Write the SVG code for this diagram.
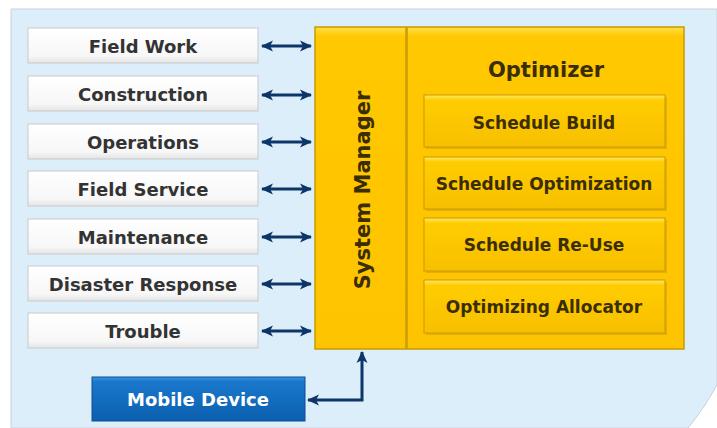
<svg xmlns="http://www.w3.org/2000/svg" width="717" height="428" viewBox="0 0 717 428">
<defs>
<linearGradient id="wg" x1="0" y1="0" x2="0" y2="1"><stop offset="0" stop-color="#ffffff"/><stop offset="0.8" stop-color="#f7f7f7"/><stop offset="1" stop-color="#e4e4e4"/></linearGradient>
<linearGradient id="yg" x1="0" y1="0" x2="0" y2="1"><stop offset="0" stop-color="#ffe04a"/><stop offset="0.03" stop-color="#ffc800"/><stop offset="1" stop-color="#ffc400"/></linearGradient>
<linearGradient id="ig" x1="0" y1="0" x2="0" y2="1"><stop offset="0" stop-color="#ffe866"/><stop offset="0.1" stop-color="#ffcc00"/><stop offset="1" stop-color="#f7c000"/></linearGradient>
<linearGradient id="bg" x1="0" y1="0" x2="0" y2="1"><stop offset="0" stop-color="#3a95e0"/><stop offset="0.1" stop-color="#1a78cc"/><stop offset="1" stop-color="#0b5fae"/></linearGradient>
<marker id="ah" viewBox="0 0 12 12" refX="11" refY="6" markerWidth="12" markerHeight="12" markerUnits="userSpaceOnUse" orient="auto-start-reverse"><path d="M0,0.5 L12,6 L0,11.5 L3,6 Z" fill="#0d3568"/></marker>
</defs>
<style>
.lb{fill:url(#wg);stroke:#c9c9c9;stroke-width:1}
.lt{font-family:"DejaVu Sans",Verdana,sans-serif;font-weight:bold;font-size:18px;fill:#333;text-anchor:middle}
.yt{font-family:"DejaVu Sans",Verdana,sans-serif;font-weight:bold;fill:#3a2e00;text-anchor:middle}
.ib{fill:url(#ig);stroke:#c99a00;stroke-width:1}
.sh{fill:#b08a20;opacity:0.35}
.cn{stroke:#0d3568;stroke-width:3;fill:none}
</style>
<rect x="0" y="0" width="717" height="428" fill="#ffffff"/>
<path d="M11,9 H717 V385 Q703,410 688,428 H11 Z" fill="#ddeefb" stroke="#c8d0d8" stroke-width="1"/>
<g id="connectors">
<line class="cn" x1="262" y1="46" x2="311" y2="46" marker-start="url(#ah)" marker-end="url(#ah)"/>
<line class="cn" x1="262" y1="95" x2="311" y2="95" marker-start="url(#ah)" marker-end="url(#ah)"/>
<line class="cn" x1="262" y1="142" x2="311" y2="142" marker-start="url(#ah)" marker-end="url(#ah)"/>
<line class="cn" x1="262" y1="189" x2="311" y2="189" marker-start="url(#ah)" marker-end="url(#ah)"/>
<line class="cn" x1="262" y1="237" x2="311" y2="237" marker-start="url(#ah)" marker-end="url(#ah)"/>
<line class="cn" x1="262" y1="284" x2="311" y2="284" marker-start="url(#ah)" marker-end="url(#ah)"/>
<line class="cn" x1="262" y1="331" x2="311" y2="331" marker-start="url(#ah)" marker-end="url(#ah)"/>
<path class="cn" d="M308,400 H362 V352" marker-start="url(#ah)" marker-end="url(#ah)"/>
</g>
<g id="field-work"><rect class="lb" x="28" y="28" width="230" height="35"/><text class="lt" x="143" y="52.5">Field Work</text></g>
<g id="construction"><rect class="lb" x="28" y="76" width="230" height="35"/><text class="lt" x="143" y="100.5">Construction</text></g>
<g id="operations"><rect class="lb" x="28" y="124" width="230" height="35"/><text class="lt" x="143" y="148.5">Operations</text></g>
<g id="field-service"><rect class="lb" x="28" y="171" width="230" height="35"/><text class="lt" x="143" y="195.5">Field Service</text></g>
<g id="maintenance"><rect class="lb" x="28" y="219" width="230" height="35"/><text class="lt" x="143" y="243.5">Maintenance</text></g>
<g id="disaster-response"><rect class="lb" x="28" y="266" width="230" height="35"/><text class="lt" x="143" y="290.5">Disaster Response</text></g>
<g id="trouble"><rect class="lb" x="28" y="313" width="230" height="35"/><text class="lt" x="143" y="337.5">Trouble</text></g>
<g id="system-manager"><rect x="315" y="27" width="91" height="322" fill="url(#yg)" stroke="#c99a00" stroke-width="1.5"/><text class="yt" font-size="21" transform="translate(370,190) rotate(-90)">System Manager</text></g>
<g id="optimizer"><rect x="407" y="27" width="277" height="322" fill="url(#yg)" stroke="#c99a00" stroke-width="1.5"/><text class="yt" font-size="21" x="546" y="77">Optimizer</text></g>
<g id="schedule-build"><rect class="sh" x="426" y="97" width="241" height="52"/><rect class="ib" x="424" y="95" width="241" height="52"/><text class="yt" font-size="17" x="544" y="129">Schedule Build</text></g>
<g id="schedule-optimization"><rect class="sh" x="426" y="159" width="241" height="52"/><rect class="ib" x="424" y="157" width="241" height="52"/><text class="yt" font-size="17" x="544" y="190">Schedule Optimization</text></g>
<g id="schedule-reuse"><rect class="sh" x="426" y="220" width="241" height="53"/><rect class="ib" x="424" y="218" width="241" height="53"/><text class="yt" font-size="17" x="544" y="251">Schedule Re-Use</text></g>
<g id="optimizing-allocator"><rect class="sh" x="426" y="282" width="241" height="53"/><rect class="ib" x="424" y="280" width="241" height="53"/><text class="yt" font-size="17" x="544" y="313">Optimizing Allocator</text></g>
<g id="mobile-device"><rect x="92" y="377" width="213" height="44" fill="url(#bg)" stroke="#0a4f94" stroke-width="1"/><text x="198" y="406" font-family="'DejaVu Sans',Verdana,sans-serif" font-weight="bold" font-size="18" fill="#ffffff" text-anchor="middle">Mobile Device</text></g>
</svg>
